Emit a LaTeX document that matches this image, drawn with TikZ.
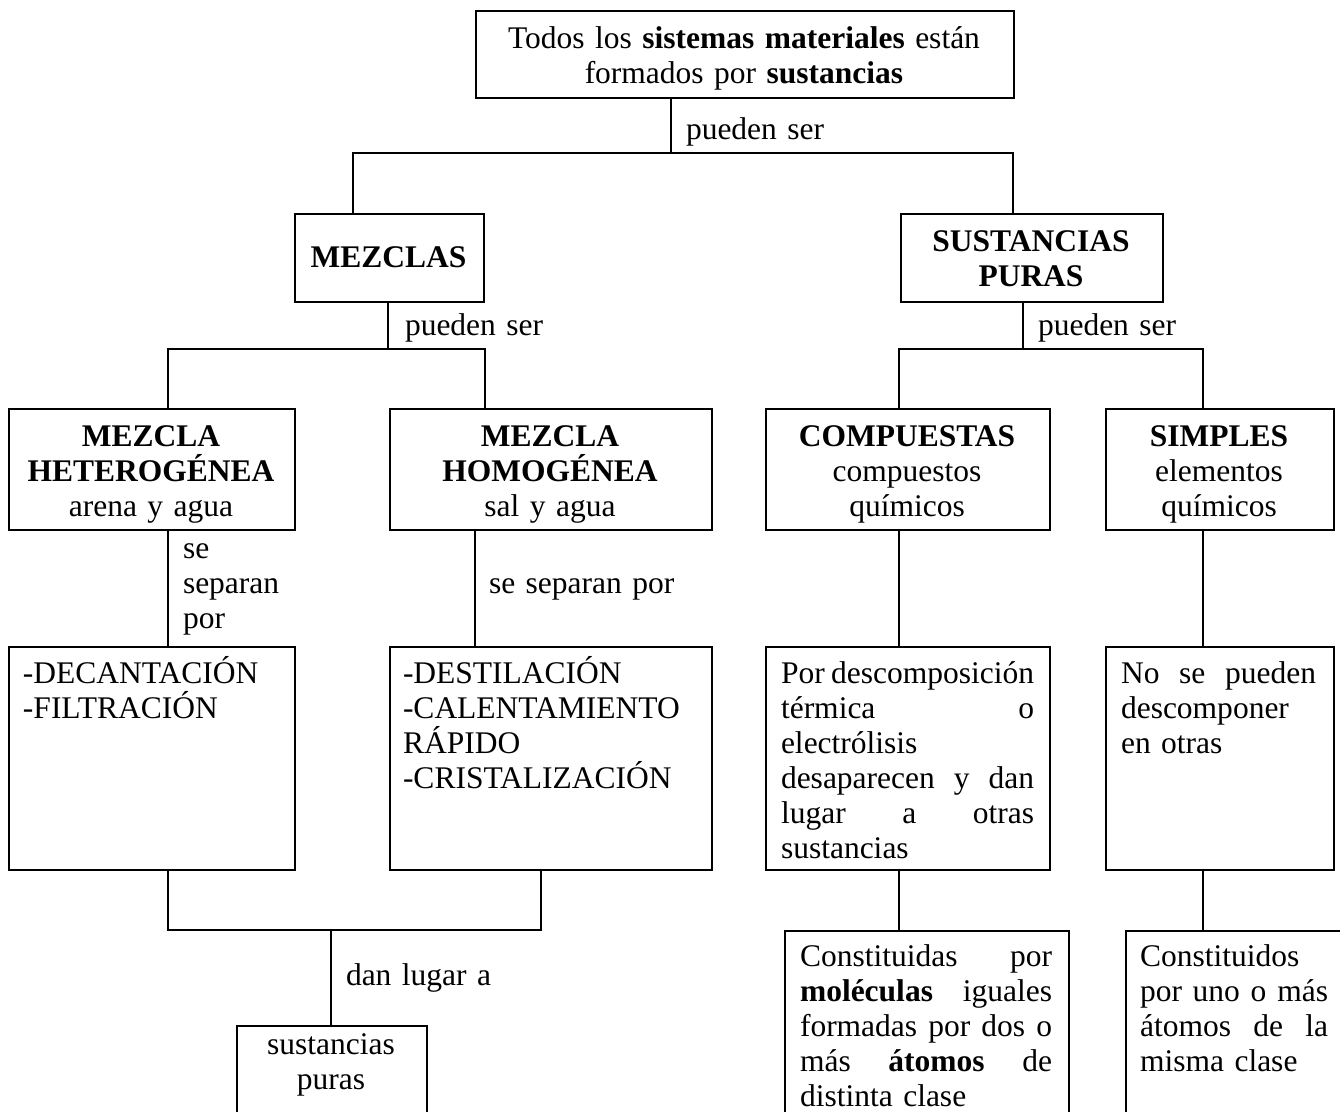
\documentclass[tikz,border=0pt]{standalone}
\usepackage{fontspec}
\setmainfont{Liberation Serif}
\newcommand\jline[2]{\leavevmode\hbox to #1pt{#2}}
\begin{document}
\begin{tikzpicture}[x=1pt,y=-1pt,line width=2pt,
  box/.style={draw,line width=2pt,inner sep=0pt,anchor=north west,rectangle},
  txt/.style={inner sep=0pt,font=\fontsize{31.5}{35}\selectfont},
  ctxt/.style={txt,anchor=base,align=center},
  ltxt/.style={txt,anchor=base west,align=left},
  link/.style={line width=2pt}]
\useasboundingbox (0,0) rectangle (1340,1111);
\fill[white] (0,0) rectangle (1340,1111);
% boxes
\node[box,minimum width=538,minimum height=87] (top) at (475,10) {};
\node[box,minimum width=189,minimum height=88] (mez) at (294,213) {};
\node[box,minimum width=262,minimum height=88] (sp) at (900,213) {};
\node[box,minimum width=286,minimum height=121] (het) at (8,408) {};
\node[box,minimum width=322,minimum height=121] (hom) at (389,408) {};
\node[box,minimum width=284,minimum height=121] (comp) at (765,408) {};
\node[box,minimum width=228,minimum height=121] (simp) at (1105,408) {};
\node[box,minimum width=286,minimum height=223] (dec) at (8,646) {};
\node[box,minimum width=322,minimum height=223] (meth) at (389,646) {};
\node[box,minimum width=284,minimum height=223] (desc) at (765,646) {};
\node[box,minimum width=228,minimum height=223] (nosep) at (1105,646) {};
\node[box,minimum width=190,minimum height=120] (sust) at (236,1025) {};
\node[box,minimum width=284,minimum height=200] (con1) at (784,930) {};
\node[box,minimum width=250,minimum height=200] (con2) at (1125,930) {};
% texts in boxes
\node[ctxt,text width=538] (ttop) at (744,48) {Todos los \textbf{sistemas materiales} están\\formados por \textbf{sustancias}};
\node[ctxt,text width=189] (tmez) at (388.5,267) {\textbf{MEZCLAS}};
\node[ctxt,text width=262] (tsp) at (1031,251) {\textbf{SUSTANCIAS}\\\textbf{PURAS}};
\node[ctxt,text width=286] (thet) at (151,446) {\textbf{MEZCLA}\\\textbf{HETEROGÉNEA}\\arena y agua};
\node[ctxt,text width=322] (thom) at (550,446) {\textbf{MEZCLA}\\\textbf{HOMOGÉNEA}\\sal y agua};
\node[ctxt,text width=284] (tcomp) at (907,446) {\textbf{COMPUESTAS}\\compuestos\\químicos};
\node[ctxt,text width=228] (tsimp) at (1219,446) {\textbf{SIMPLES}\\elementos\\químicos};
\node[ltxt,text width=270] (tdec) at (22,683) {-DECANTACIÓN\\-FILTRACIÓN};
\node[ltxt,text width=305] (tmeth) at (402,683) {-DESTILACIÓN\\-CALENTAMIENTO\\RÁPIDO\\-CRISTALIZACIÓN};
\node[ltxt,text width=260] (tdesc) at (780,683) {\jline{253}{Por\hfill descomposición}\\\jline{253}{térmica\hfill o}\\electrólisis\\\jline{253}{desaparecen\hfill y\hfill dan}\\\jline{253}{lugar\hfill a\hfill otras}\\sustancias};
\node[ltxt,text width=200] (tnosep) at (1120,683) {\jline{195}{No\hfill se\hfill pueden}\\descomponer\\en otras};
\node[ctxt,text width=190] (tsust) at (331,1054) {sustancias\\puras};
\node[ltxt,text width=260] (tcon1) at (799,966) {\jline{252}{Constituidas\hfill por}\\\jline{252}{\textbf{moléculas}\hfill iguales}\\\jline{252}{formadas\hfill por\hfill dos\hfill o}\\\jline{252}{más\hfill \textbf{átomos}\hfill de}\\distinta clase};
\node[ltxt,text width=200] (tcon2) at (1139,966) {Constituidos\\\jline{188}{por\hfill uno\hfill o\hfill más}\\\jline{188}{átomos\hfill de\hfill la}\\misma clase};
% connector labels
\node[ltxt,text width=200] (l1) at (685,139) {pueden ser};
\node[ltxt,text width=200] (l2) at (404,335) {pueden ser};
\node[ltxt,text width=200] (l3) at (1037,335) {pueden ser};
\node[ltxt,text width=120] (l4) at (182,558) {se\\separan\\por};
\node[ltxt,text width=250] (l5) at (488,593) {se separan por};
\node[ltxt,text width=200] (l6) at (345,985) {dan lugar a};
% connectors
\coordinate (j1) at (671,153);
\coordinate (b1l) at (353,153);
\coordinate (b1r) at (1013,153);
\draw[link] (top.south -| j1) -- (j1);
\draw[link] (mez.north -| b1l) -- (b1l) -- (b1r) -- (sp.north -| b1r);
\coordinate (j2) at (388,349);
\coordinate (b2l) at (168,349);
\coordinate (b2r) at (485,349);
\draw[link] (mez.south -| j2) -- (j2);
\draw[link] (het.north -| b2l) -- (b2l) -- (b2r) -- (hom.north -| b2r);
\coordinate (j3) at (1023,349);
\coordinate (b3l) at (899,349);
\coordinate (b3r) at (1203,349);
\draw[link] (sp.south -| j3) -- (j3);
\draw[link] (comp.north -| b3l) -- (b3l) -- (b3r) -- (simp.north -| b3r);
\coordinate (v2) at (475,600);
\draw[link] (het.south -| b2l) -- (dec.north -| b2l);
\draw[link] (hom.south -| v2) -- (meth.north -| v2);
\draw[link] (comp.south -| b3l) -- (desc.north -| b3l);
\draw[link] (simp.south -| b3r) -- (nosep.north -| b3r);
\coordinate (b4l) at (168,930);
\coordinate (b4r) at (541,930);
\coordinate (j4) at (331,930);
\draw[link] (dec.south -| b4l) -- (b4l) -- (b4r) -- (meth.south -| b4r);
\draw[link] (j4) -- (sust.north -| j4);
\draw[link] (desc.south -| b3l) -- (con1.north -| b3l);
\draw[link] (nosep.south -| b3r) -- (con2.north -| b3r);
\end{tikzpicture}
\end{document}
